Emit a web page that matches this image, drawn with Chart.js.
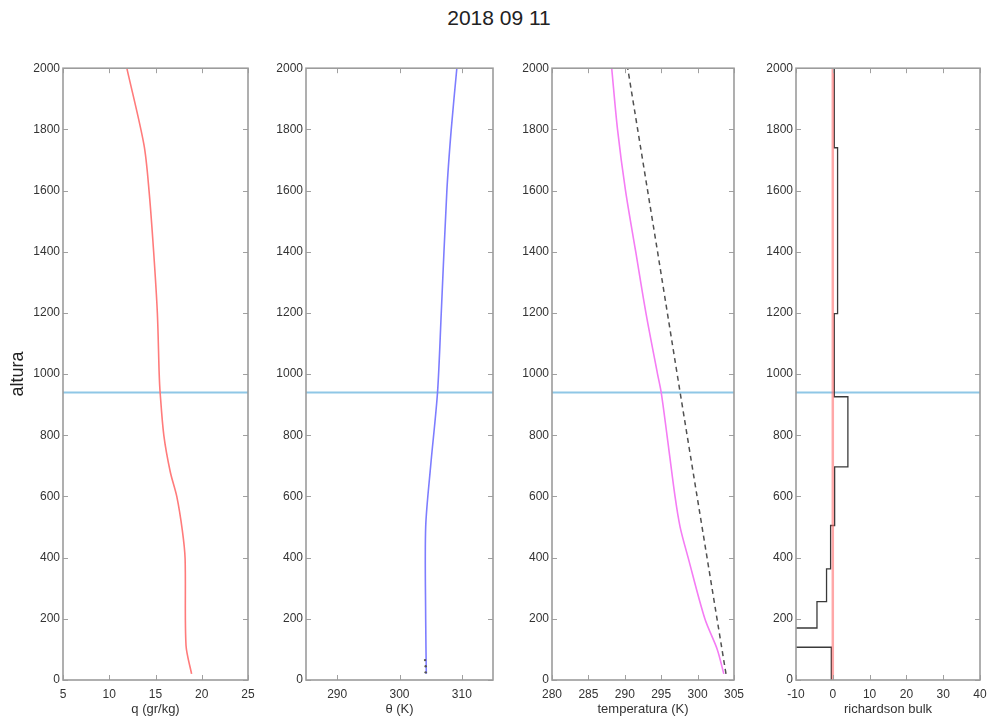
<!DOCTYPE html>
<html><head><meta charset="utf-8">
<script src="https://cdn.jsdelivr.net/npm/chart.js@4.4.1/dist/chart.umd.min.js"></script>
<style>
html,body{margin:0;padding:0;background:#fff;overflow:hidden;width:989px;height:719px;}
#title{position:absolute;left:0;width:998px;top:6px;text-align:center;font:21px "Liberation Sans",Arial,sans-serif;color:#222;}
canvas{position:absolute;}
</style></head><body>
<div id="title">2018 09 11</div>
<canvas id="c1"></canvas><canvas id="c2"></canvas><canvas id="c3"></canvas><canvas id="c4"></canvas>
<script>
// ---------- data ----------
const altTicks = [0,200,400,600,800,1000,1200,1400,1600,1800,2000];
const blhAltitude = 940;

const qTicks = [5,10,15,20,25];
const qAltitude = [20,113,397,489,600,680,800,940,1000,1200,1400,1600,1750,2000];
const qValues   = [18.9,18.3,18.2,17.9,17.3,16.6,15.9,15.5,15.4,15.2,14.8,14.3,13.75,11.9];

const thetaTicks = [290,300,310];
const thetaRange = [285,315];
const thetaAltitude = [20,200,500,700,940,1200,1600,1800,2000];
const thetaValues   = [304.3,304.2,304.2,305.0,306.1,306.7,307.6,308.3,309.2];
const thetaDotAltitude = [25,45,65];
const thetaDotValues   = [304.2,304.2,304.1];

const tempTicks = [280,285,290,295,300,305];
const tempAltitude = [20,100,200,400,500,600,800,940,1000,1200,1400,1600,1800,2000];
const tempValues   = [303.6,302.7,301.0,298.7,297.6,296.9,295.8,295.0,294.5,292.9,291.5,290.1,289.0,288.2];
const adiabatAltitude = [20,400,940,1400,2000];
const adiabatValues   = [303.9,301.3,297.6,294.5,290.4];

const riTicks = [-10,0,10,20,30,40];
const riAltitude = [0,107,170,256,363,505,697,926,1198,1740,2000];
const riValues   = [-0.4,-15,-4.3,-1.7,-0.6,0.5,4.1,0.4,1.3,0.4,0.4];
const riZero = 0;

// ---------- helpers ----------
const pts = (xs, ys) => xs.map((v,i)=>({x:v, y:ys[i]}));
const FONT = '"Liberation Sans", Arial, sans-serif';
const H = 661, TOP = 58, PADR = 14;

const framePlugin = {
  id:'frame',
  afterDatasetsDraw(chart){
    const {ctx, chartArea:a, scales:{x,y}} = chart;
    const T = 5;
    ctx.save();
    ctx.strokeStyle = '#a0a0a0'; ctx.lineWidth = 1;
    ctx.beginPath();
    x.ticks.forEach(t=>{
      const px = Math.round(x.getPixelForValue(t.value))+0.5;
      ctx.moveTo(px,a.bottom); ctx.lineTo(px,a.bottom-T);
      ctx.moveTo(px,a.top); ctx.lineTo(px,a.top+T);
    });
    y.ticks.forEach(t=>{
      const py = Math.round(y.getPixelForValue(t.value))+0.5;
      ctx.moveTo(a.left,py); ctx.lineTo(a.left+T,py);
      ctx.moveTo(a.right,py); ctx.lineTo(a.right-T,py);
    });
    ctx.stroke();
    ctx.lineWidth = 1.6; ctx.strokeStyle = '#9c9c9c';
    ctx.strokeRect(a.left, a.top, a.right-a.left, a.bottom-a.top);
    ctx.restore();
  }
};

function panel(id, left, yw, plotW, xTicks, xMin, xMax, xTitle, datasets, yTitle){
  const cv = document.getElementById(id);
  const w = yw + plotW + PADR;
  cv.width = w; cv.height = H;
  cv.style.left = (left - yw) + 'px'; cv.style.top = TOP + 'px';
  cv.style.width = w + 'px'; cv.style.height = H + 'px';
  const blh = {data: pts([xMin,xMax],[blhAltitude,blhAltitude]), borderColor:'#8fc7e6', borderWidth:2, showLine:true, pointRadius:0, order:10};
  new Chart(cv, {
    type:'scatter',
    data:{datasets:[blh, ...datasets]},
    options:{
      responsive:false, animation:false, devicePixelRatio:1,
      layout:{padding:{top:10,right:PADR,left:0,bottom:0}},
      plugins:{legend:{display:false}, tooltip:{enabled:false}},
      events:[],
      scales:{
        x:{type:'linear', min:xMin, max:xMax,
           afterBuildTicks:s=>{s.ticks = xTicks.map(v=>({value:v}));},
           afterFit:s=>{s.height = 39;},
           ticks:{autoSkip:false, maxRotation:0, padding:7, color:'#333', font:{family:FONT,size:12}, callback:v=>String(v)},
           grid:{drawOnChartArea:false, drawTicks:false}, border:{display:false},
           title:{display:true, text:xTitle, color:'#333', font:{family:FONT,size:13}, padding:{top:0,bottom:2}}},
        y:{type:'linear', min:0, max:2000,
           afterBuildTicks:s=>{s.ticks = altTicks.map(v=>({value:v}));},
           afterFit:s=>{s.width = yw;},
           ticks:{autoSkip:false, padding:3, color:'#333', font:{family:FONT,size:12}, callback:v=>String(v)},
           grid:{drawOnChartArea:false, drawTicks:false}, border:{display:false},
           title:{display:!!yTitle, text:yTitle||'', color:'#222', font:{family:FONT,size:18}, padding:{top:7,bottom:0}}}
      }
    },
    plugins:[framePlugin]
  });
}

const line = (data, color, width, extra) => Object.assign({data, borderColor:color, borderWidth:width, showLine:true, pointRadius:0, fill:false}, extra||{});

panel('c1', 63, 63, 185, qTicks, 5, 25, 'q (gr/kg)',
  [line(pts(qValues,qAltitude), '#ff7b7b', 1.6, {order:1, tension:0.3})], 'altura');

panel('c2', 306, 50, 187, thetaTicks, thetaRange[0], thetaRange[1], 'θ (K)',
  [line(pts(thetaValues,thetaAltitude), '#7d7dff', 1.6, {order:2, tension:0.3}),
   {data:pts(thetaDotValues,thetaDotAltitude), showLine:false, pointRadius:1.2, pointBorderWidth:0, pointBackgroundColor:'#555', order:1}]);

panel('c3', 552, 50, 185, tempTicks, 280, 305, 'temperatura (K)',
  [line(pts(tempValues,tempAltitude), '#f47cf4', 1.6, {order:2, tension:0.3}),
   line(pts(adiabatValues,adiabatAltitude), '#505050', 1.5, {borderDash:[5,4], order:1})]);

panel('c4', 796, 50, 184, riTicks, -10, 40, 'richardson bulk',
  [line(pts(riValues,riAltitude), '#3a3a3a', 1.3, {stepped:'after', order:2}),
   line(pts([riZero,riZero],[0,2000]), 'rgba(255,110,110,0.6)', 2.5, {order:1})]);
</script>
</body></html>
